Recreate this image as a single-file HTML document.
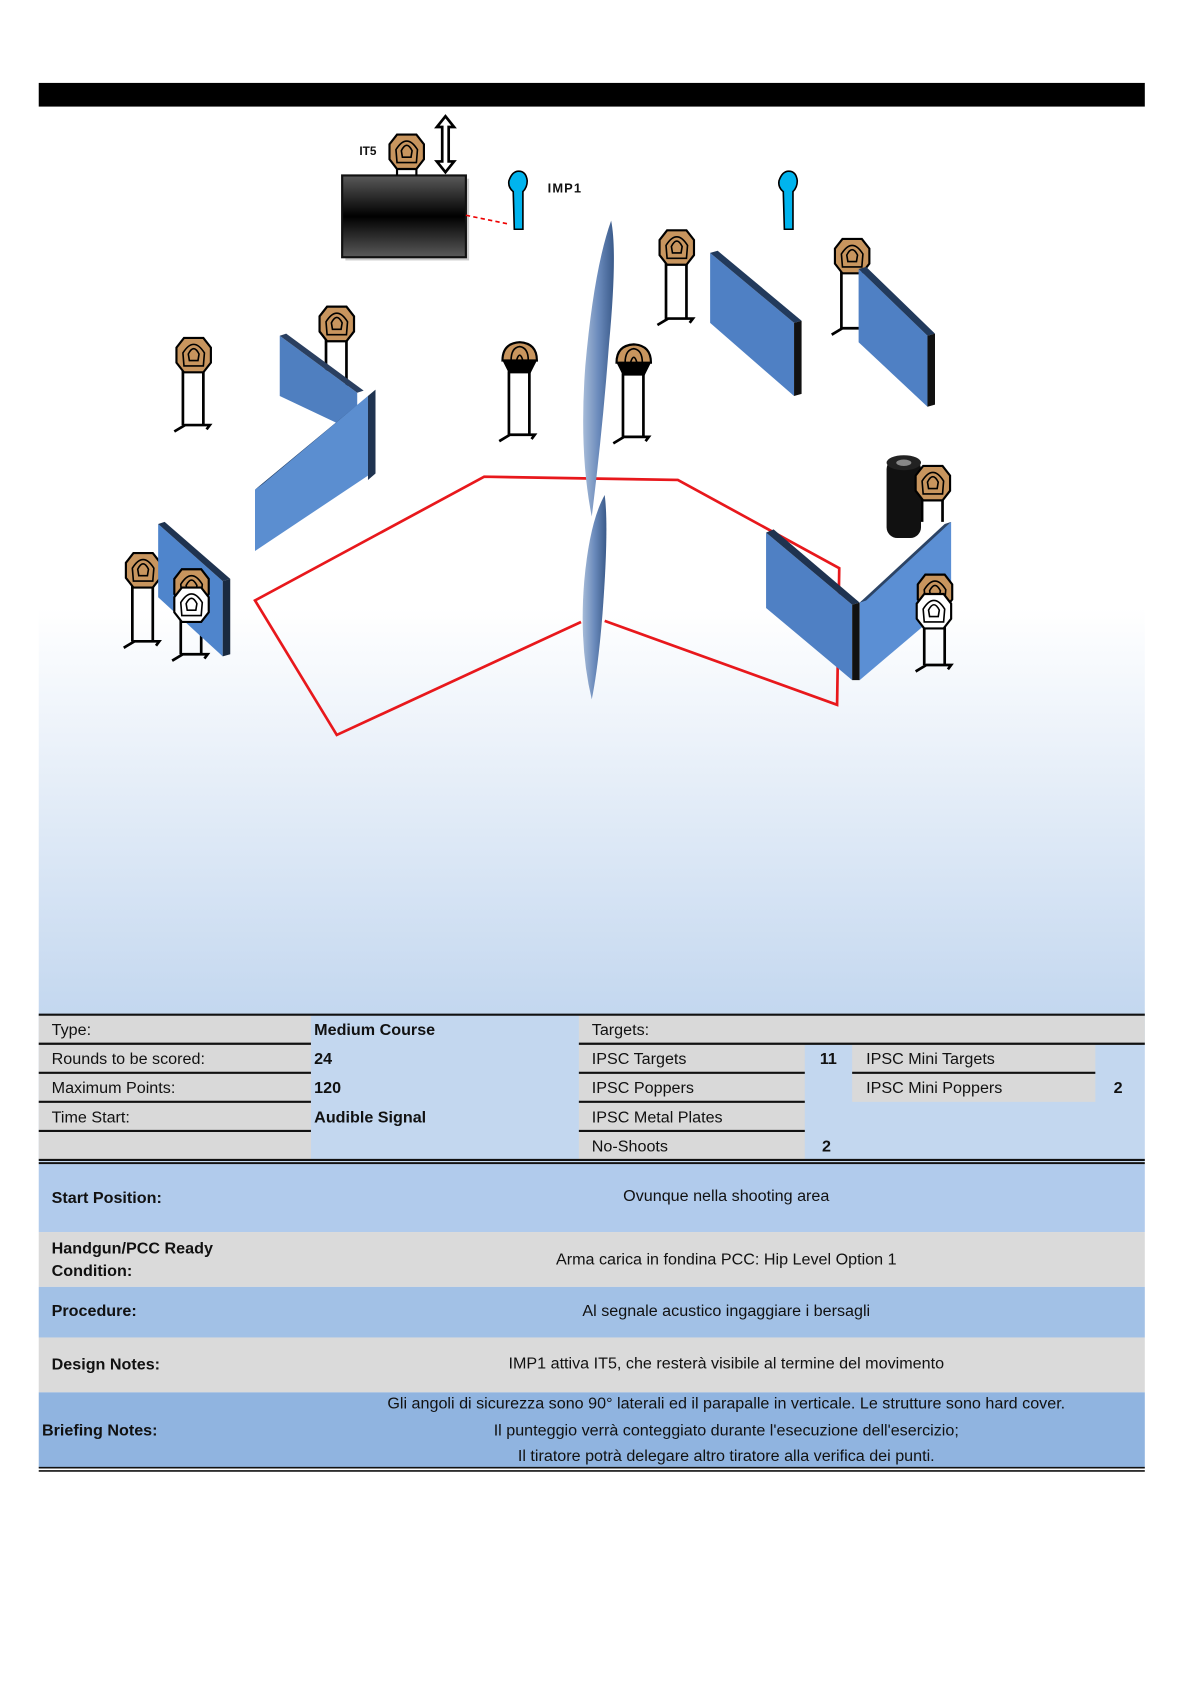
<!DOCTYPE html>
<html><head><meta charset="utf-8"><style>
html,body{margin:0;padding:0;background:#fff;}
svg{display:block;}
text{font-family:"Liberation Sans",sans-serif;fill:#111;}
</style></head><body>
<svg width="1190" height="1684" viewBox="0 0 1106 1565" xmlns="http://www.w3.org/2000/svg">
<defs>
<linearGradient id="bg" x1="0" y1="0" x2="0" y2="1">
<stop offset="0" stop-color="#ffffff"/><stop offset="0.55" stop-color="#ffffff"/><stop offset="1" stop-color="#c3d7ef"/>
</linearGradient>
<linearGradient id="box" x1="0" y1="0" x2="0" y2="1">
<stop offset="0" stop-color="#5a5a5a"/><stop offset="0.5" stop-color="#000"/><stop offset="1" stop-color="#5a5a5a"/>
</linearGradient>
<linearGradient id="vw" x1="0" y1="0" x2="1" y2="0">
<stop offset="0" stop-color="#a6bbd8"/><stop offset="0.5" stop-color="#6a8abb"/><stop offset="1" stop-color="#3a5a8a"/>
</linearGradient>
<g id="head">
<polygon points="-9,-16 9,-16 16,-7 16,7 9,16 -9,16 -16,7 -16,-7" fill="#c8955e" stroke="#000" stroke-width="2"/>
<path d="M-9,10 L-10,-2 Q0,-18 10,-2 L9,10 Z" fill="none" stroke="#000" stroke-width="1.5"/>
<path d="M-4,5 L-5,-1 Q0,-11 5,-1 L4,5 Z" fill="none" stroke="#000" stroke-width="1.5"/>
</g>
<g id="ns">
<polygon points="-9,-16 9,-16 16,-7 16,7 9,16 -9,16 -16,7 -16,-7" fill="#fff" stroke="#000" stroke-width="2"/>
<path d="M-9,10 L-10,-2 Q0,-18 10,-2 L9,10 Z" fill="none" stroke="#000" stroke-width="1.5"/>
<path d="M-4,5 L-5,-1 Q0,-11 5,-1 L4,5 Z" fill="none" stroke="#000" stroke-width="1.5"/>
</g>
<g id="pop">
<path d="M-16,2 Q-16,-14 0,-15 Q16,-14 16,2 Z" fill="#c8955e" stroke="#000" stroke-width="2"/>
<path d="M-8,2 Q-8,-10 0,-11 Q8,-10 8,2 M-3,2 Q0,-8 3,2" fill="none" stroke="#000" stroke-width="1.5"/>
<path d="M-16,2 L16,2 L10,14 L-10,14 Z" fill="#000"/>
</g>
</defs>
<rect x="36" y="100" width="1028" height="845" fill="url(#bg)"/>
<rect x="36" y="77" width="1028" height="22" fill="#000"/>

<rect x="321" y="166" width="115" height="76" fill="#aaa" opacity="0.6"/>
<rect x="318" y="163" width="115" height="76" fill="url(#box)" stroke="#111" stroke-width="2"/>
<line x1="369" y1="150" x2="369" y2="163" stroke="#000" stroke-width="2"/>
<line x1="387" y1="150" x2="387" y2="163" stroke="#000" stroke-width="2"/>
<use href="#head" x="378" y="141"/>
<text x="334" y="144" font-size="11" font-weight="bold">IT5</text>
<path d="M414,108 L422,118 L417,118 L417,150 L422,150 L414,160 L406,150 L411,150 L411,118 L406,118 Z" fill="#fff" stroke="#000" stroke-width="2.5"/>
<line x1="433" y1="200" x2="472" y2="208" stroke="#e00" stroke-width="1.5" stroke-dasharray="4,3"/>
<path d="M478,213 L477,178 Q472,174 473,168 Q476,159 482,159 Q489,159 490,168 Q490,174 486,178 L486,213 Z" fill="#00b4ee" stroke="#000" stroke-width="1.5"/>
<text x="509" y="179" font-size="12" font-weight="bold" letter-spacing="1">IMP1</text>
<path d="M729,213 L728,178 Q723,174 724,168 Q727,159 733,159 Q740,159 741,168 Q741,174 737,178 L737,213 Z" fill="#00b4ee" stroke="#000" stroke-width="1.5"/>

<polyline points="540,578 313,683 237,558 450,443 630,446 780,528 778,655 562,577" fill="none" stroke="#e8181c" stroke-width="2.5"/>

<g stroke="#000" stroke-width="2.5" fill="none">
<path d="M170,340 V395 M189,340 V395 M162,401 L172,395 H195 L192,399"/>
<path d="M303,310 V360 M322,310 V360"/>
<path d="M473,345 V405 M492,345 V405 M464,410 L474,404 H497 L494,408"/>
<path d="M579,347 V407 M598,347 V407 M570,412 L580,406 H603 L600,410"/>
<path d="M619,240 V297 M638,240 V297 M611,302 L621,296 H644 L641,300"/>
<path d="M782,248 V306 M801,248 V306 M773,311 L783,305 H806 L803,309"/>
<path d="M123,540 V596 M142,540 V596 M115,602 L125,596 H148 L145,600"/>
<path d="M168,572 V608 M187,572 V608 M160,614 L170,608 H193 L190,612"/>
<path d="M859,578 V618 M878,578 V618 M851,624 L861,618 H884 L881,622"/>
<path d="M857,460 V485 M876,460 V485"/>
</g>
<use href="#head" x="180" y="330"/>
<use href="#head" x="313" y="301"/>
<use href="#pop" x="483" y="333"/>
<use href="#pop" x="589" y="335"/>
<use href="#head" x="629" y="230"/>
<use href="#head" x="792" y="238"/>
<use href="#head" x="133" y="530"/>

<g>
<polygon points="260,312 332,365 332,402 260,368" fill="#4f7fc0"/>
<polygon points="260,312 266,310 338,363 332,365" fill="#2a3f60"/>
<polygon points="237,455 342,368 342,442 237,512" fill="#5b8ed0"/>
<polygon points="237,455 342,368 349,362 244,450" fill="#2c4466"/>
<polygon points="342,368 349,362 349,440 342,446" fill="#1f3350"/>
<polygon points="147,487 207,540 207,610 147,555" fill="#4f85cc"/>
<polygon points="147,487 153,485 214,538 207,540" fill="#1f3350"/>
<polygon points="207,540 214,538 214,608 207,610" fill="#1a2a40"/>
<polygon points="660,235 738,300 738,368 660,300" fill="#4f80c4"/>
<polygon points="660,235 667,233 745,298 738,300" fill="#223a5c"/>
<polygon points="738,300 745,298 745,366 738,368" fill="#111"/>
<polygon points="798,250 862,312 862,378 798,318" fill="#4f80c4"/>
<polygon points="798,250 805,248 869,310 862,312" fill="#223a5c"/>
<polygon points="862,312 869,310 869,376 862,378" fill="#111"/>
<polygon points="712,495 792,562 792,632 712,565" fill="#4f80c4"/>
<polygon points="712,495 719,492 799,560 792,562" fill="#1f3350"/>
<polygon points="792,562 799,560 799,632 792,632" fill="#111"/>
<polygon points="799,560 884,485 884,560 799,632" fill="#5b8fd4"/>
<polygon points="799,560 878,487 884,485 805,558" fill="#2c4466"/>
</g>
<use href="#head" x="313" y="301"/>
<use href="#head" x="178" y="545"/>
<use href="#ns" x="178" y="562"/>
<rect x="824" y="426" width="32" height="74" rx="10" fill="#111"/>
<ellipse cx="840" cy="430" rx="16" ry="7" fill="#222"/>
<ellipse cx="840" cy="430" rx="7" ry="3" fill="#888"/>
<use href="#head" x="867" y="449"/>
<use href="#head" x="869" y="550"/>
<use href="#ns" x="868" y="568"/>
<path d="M568,205 Q574,235 566,320 Q560,400 550,480 Q538,420 544,340 Q552,250 568,205 Z" fill="url(#vw)"/>
<path d="M562,460 Q566,490 560,570 Q556,620 550,650 Q538,600 543,540 Q548,485 562,460 Z" fill="url(#vw)"/>

<rect x="36" y="943" width="1028" height="137" fill="#c3d7ef"/>
<g fill="#d9d9d9">
<rect x="36" y="943" width="253" height="27"/><rect x="36" y="970" width="253" height="27"/>
<rect x="36" y="997" width="253" height="27"/><rect x="36" y="1024" width="253" height="27"/>
<rect x="36" y="1051" width="253" height="27"/>
<rect x="538" y="943" width="526" height="27"/>
<rect x="538" y="970" width="210" height="27"/><rect x="538" y="997" width="210" height="27"/>
<rect x="538" y="1024" width="210" height="27"/><rect x="538" y="1051" width="210" height="27"/>
<rect x="792" y="970" width="226" height="27"/><rect x="792" y="997" width="226" height="27"/>
</g>
<g stroke="#111" stroke-width="2">
<line x1="36" y1="943" x2="1064" y2="943"/>
<line x1="36" y1="970" x2="289" y2="970"/><line x1="36" y1="997" x2="289" y2="997"/>
<line x1="36" y1="1024" x2="289" y2="1024"/><line x1="36" y1="1051" x2="289" y2="1051"/>
<line x1="538" y1="970" x2="1064" y2="970"/>
<line x1="538" y1="997" x2="748" y2="997"/><line x1="538" y1="1024" x2="748" y2="1024"/>
<line x1="538" y1="1051" x2="748" y2="1051"/>
<line x1="792" y1="997" x2="1018" y2="997"/>
<line x1="36" y1="1078" x2="1064" y2="1078"/><line x1="36" y1="1081" x2="1064" y2="1081"/>
</g>
<rect x="36" y="1082" width="1028" height="63" fill="#b1cbec"/>
<rect x="36" y="1145" width="1028" height="51" fill="#dadada"/>
<rect x="36" y="1196" width="1028" height="47" fill="#a2c1e6"/>
<rect x="36" y="1243" width="1028" height="51" fill="#dadada"/>
<rect x="36" y="1294" width="1028" height="70" fill="#90b4e0"/>
<line x1="36" y1="1364" x2="1064" y2="1364" stroke="#111" stroke-width="1.5"/>
<line x1="36" y1="1367" x2="1064" y2="1367" stroke="#111" stroke-width="1.5"/>
<g font-size="15">
<text x="48" y="962">Type:</text><text x="48" y="989">Rounds to be scored:</text>
<text x="48" y="1016">Maximum Points:</text><text x="48" y="1043">Time Start:</text>
<g font-weight="bold"><text x="292" y="962">Medium Course</text><text x="292" y="989">24</text>
<text x="292" y="1016">120</text><text x="292" y="1043">Audible Signal</text>
<text x="762" y="989">11</text><text x="764" y="1070">2</text><text x="1035" y="1016">2</text></g>
<text x="550" y="962">Targets:</text><text x="550" y="989">IPSC Targets</text>
<text x="550" y="1016">IPSC Poppers</text><text x="550" y="1043">IPSC Metal Plates</text>
<text x="550" y="1070">No-Shoots</text>
<text x="805" y="989">IPSC Mini Targets</text><text x="805" y="1016">IPSC Mini Poppers</text>
</g>
<g font-size="15" font-weight="bold">
<text x="48" y="1118">Start Position:</text>
<text x="48" y="1165">Handgun/PCC Ready</text><text x="48" y="1186">Condition:</text>
<text x="48" y="1223">Procedure:</text>
<text x="48" y="1273">Design Notes:</text>
<text x="39" y="1334">Briefing Notes:</text>
</g>
<g font-size="15" text-anchor="middle">
<text x="675" y="1116">Ovunque nella shooting area</text>
<text x="675" y="1175">Arma carica in fondina PCC: Hip Level Option 1</text>
<text x="675" y="1223">Al segnale acustico ingaggiare i bersagli</text>
<text x="675" y="1272">IMP1 attiva IT5, che resterà visibile al termine del movimento</text>
<text x="675" y="1309">Gli angoli di sicurezza sono 90° laterali ed il parapalle in verticale. Le strutture sono hard cover.</text>
<text x="675" y="1334">Il punteggio verrà conteggiato durante l'esecuzione dell'esercizio;</text>
<text x="675" y="1358">Il tiratore potrà delegare altro tiratore alla verifica dei punti.</text>
</g>
</svg>
</body></html>
